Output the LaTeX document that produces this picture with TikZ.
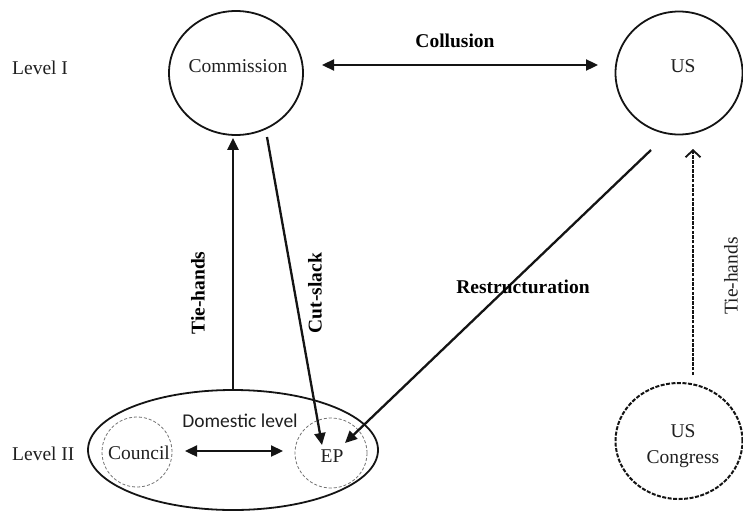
\documentclass[tikz,border=0pt]{standalone}
\usepackage{fontspec}
\setmainfont{Liberation Serif}
\newfontfamily\calfont{Carlito}
\usetikzlibrary{arrows.meta,shapes.geometric,calc}
\begin{document}
\begin{tikzpicture}[x=1pt,y=-1pt,
  txt/.style={font=\fontsize{19.5}{26}\selectfont, inner sep=0, text=black!88},
  lbl/.style={font=\fontsize{19.5}{23}\selectfont\bfseries, inner sep=0, text=black},
  bigov/.style={draw=black!92, ellipse, line width=1.8pt, inner sep=0},
  subov/.style={draw=black!55, ellipse, line width=0.8pt, dash pattern=on 3pt off 2pt, inner sep=0},
  congov/.style={draw=black!92, ellipse, line width=2pt, dash pattern=on 4pt off 1.5pt, inner sep=0},
  tri/.tip={Triangle[length=12pt,width=11pt]},
  arr/.style={draw=black!92, line width=2.3pt, -tri},
  darr/.style={draw=black!92, line width=2.3pt, tri-tri},
  dasharr/.style={draw=black!92, line width=2.2pt, dash pattern=on 3.5pt off 1.2pt, -{Straight Barb[length=7pt,width=15pt,line width=1.8pt]}},
]
\useasboundingbox (0,0) rectangle (743,511);

% Level I
\node[bigov, minimum width=134pt, minimum height=124pt] (comm) at (236,73) {};
\node[txt] (commtxt) at (238,66) {Commission};
\node[bigov, minimum width=127pt, minimum height=123pt] (us) at (679,73) {};
\node[txt] (ustxt) at (683,66) {US};

% Level II
\node[bigov, minimum width=290pt, minimum height=120pt] (dom) at (233,450) {};
\node[subov, minimum width=70pt, minimum height=70pt] (council) at (137,452) {};
\node[txt] (counciltxt) at (139,453) {Council};
\node[subov, minimum width=72pt, minimum height=70pt] (ep) at (331,453) {};
\node[txt] (eptxt) at (332,456) {EP};
\node[font=\calfont\fontsize{19.5}{23}\selectfont, inner sep=0, text=black!88] (domtxt) at (240,421) {Domestic level};
\node[congov, minimum width=127pt, minimum height=116pt] (cong) at (679,441) {};
\node[txt, align=center] (congtxt) at (683,446) {US\\Congress};

% level labels
\node[txt, anchor=west] (lvl1) at (12,68) {Level I};
\node[txt, anchor=west] (lvl2) at (12,454) {Level II};

% connectors
\draw[darr] ($(comm.center)+(86,-8)$) -- ($(us.center)+(-81,-8)$);
\node[lbl] (collusion) at (455,41) {Collusion};

\draw[arr, shorten >=2pt] (dom.north) -- (dom.north |- comm.south);
\node[lbl, rotate=90] (tiehands) at (198,293) {Tie-hands};

\draw[arr] ($(comm.center)+(31,64)$) -- ($(ep.center)+(-9,-8)$);
\node[lbl, rotate=90] (cutslack) at (315,293) {Cut-slack};

\draw[arr] ($(us.center)+(-28,77)$) -- ($(ep.center)+(14,-10)$);
\node[lbl] (restr) at (523,287) {Restructuration};

\draw[darr] ($(council.center)+(48,-1)$) -- ($(ep.center)+(-48,-2)$);

\draw[dasharr] ($(cong.center)+(14,-66)$) -- ($(us.center)+(14,76)$);
\node[txt, rotate=90] (tiehands2) at (731,276) {Tie-hands};
\end{tikzpicture}
\end{document}
